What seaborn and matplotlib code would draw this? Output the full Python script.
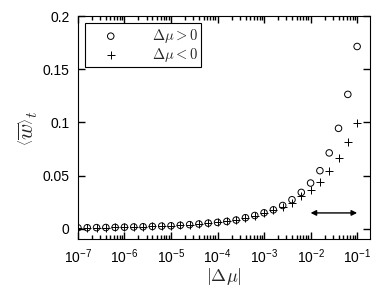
import numpy as np
import pandas as pd
import seaborn as sns
import matplotlib.pyplot as plt
from matplotlib import ticker

# exponents of |delta mu| (10^e)
log_mu = [-7.0, -6.8, -6.6, -6.4, -6.2, -6.0, -5.8, -5.6, -5.4, -5.2,
          -5.0, -4.8, -4.6, -4.4, -4.2, -4.0, -3.8, -3.6, -3.4, -3.2,
          -3.0, -2.8, -2.6, -2.4, -2.2, -2.0, -1.8, -1.6, -1.4, -1.2, -1.0]

# <w>_t for delta mu > 0 (circles)
w_pos = [0.0010, 0.0011, 0.0012, 0.0013, 0.0014, 0.0016, 0.0018, 0.0020, 0.0023, 0.0026,
         0.0029, 0.0034, 0.0040, 0.0046, 0.0054, 0.0061, 0.0070, 0.0083, 0.0105, 0.0126,
         0.0151, 0.0179, 0.0220, 0.0274, 0.0343, 0.0431, 0.0547, 0.0714, 0.0945, 0.1264, 0.1714]

# <w>_t for delta mu < 0 (plus)
w_neg = [0.0010, 0.0011, 0.0012, 0.0013, 0.0014, 0.0016, 0.0018, 0.0020, 0.0023, 0.0026,
         0.0029, 0.0034, 0.0040, 0.0046, 0.0054, 0.0061, 0.0070, 0.0083, 0.0104, 0.0124,
         0.0148, 0.0175, 0.0210, 0.0248, 0.0305, 0.0361, 0.0443, 0.0540, 0.0667, 0.0814, 0.0997]

y_ticks = [0, 0.05, 0.1, 0.15, 0.2]
y_tick_labels = ["0", "0.05", "0.1", "0.15", "0.2"]

df = pd.DataFrame({
    "mu": [10 ** e for e in log_mu],
    "pos": w_pos,
    "neg": w_neg,
})

sns.set_style("ticks")
plt.rcParams["font.family"] = ["Liberation Sans", "DejaVu Sans"]
plt.rcParams["mathtext.fontset"] = "cm"

fig = plt.figure(figsize=(3.82, 2.92), dpi=100)
ax = fig.add_axes([0.204, 0.1815, 0.765, 0.7635])

sns.scatterplot(data=df, x="mu", y="pos", marker="o", s=22, facecolors="none",
                edgecolor="k", linewidth=0.7, label=r"$\Delta\mu > 0$", ax=ax, zorder=3)
sns.scatterplot(data=df, x="mu", y="neg", marker="+", s=28, color="k",
                linewidth=0.7, label=r"$\Delta\mu < 0$", ax=ax, zorder=3)

ax.annotate("", xy=(1e-1, 0.015), xytext=(1e-2, 0.015),
            arrowprops=dict(arrowstyle="<|-|>", color="k", lw=1, mutation_scale=8,
                            shrinkA=0, shrinkB=0))

ax.set_xscale("log")
ax.set_xlim(1e-7, 10 ** -0.72)
ax.set_ylim(-0.0095, 0.2)
ax.xaxis.set_major_locator(ticker.LogLocator(base=10, numticks=10))
ax.xaxis.set_minor_locator(ticker.LogLocator(base=10, subs=np.arange(2, 10), numticks=20))
ax.xaxis.set_minor_formatter(ticker.NullFormatter())
ax.set_yticks(y_ticks)
ax.set_yticklabels(y_tick_labels)
ax.yaxis.set_minor_locator(ticker.NullLocator())

# ticks inside on all four sides, matlab style
ax.tick_params(which="both", direction="in", top=True, right=True, labelsize=10,
               width=1.0, color="k", labelcolor="k")
ax.tick_params(which="major", length=5, pad=6)
ax.tick_params(which="minor", length=3)
for sp in ax.spines.values():
    sp.set_linewidth(0.8)
    sp.set_color("k")

ax.set_xlabel(r"$|\Delta\mu|$", fontsize=13, labelpad=0)
ax.set_ylabel(r"$\left\langle \overline{w} \right\rangle_t$", fontsize=16, labelpad=2)

leg = ax.legend(loc="upper left", fontsize=10.5, frameon=True, fancybox=False,
                edgecolor="k", framealpha=1, borderpad=0.25, handletextpad=1.3,
                labelspacing=0.05, borderaxespad=0.5, handlelength=3.0)
leg.get_frame().set_linewidth(0.8)

fig.savefig("out.png", dpi=100)
